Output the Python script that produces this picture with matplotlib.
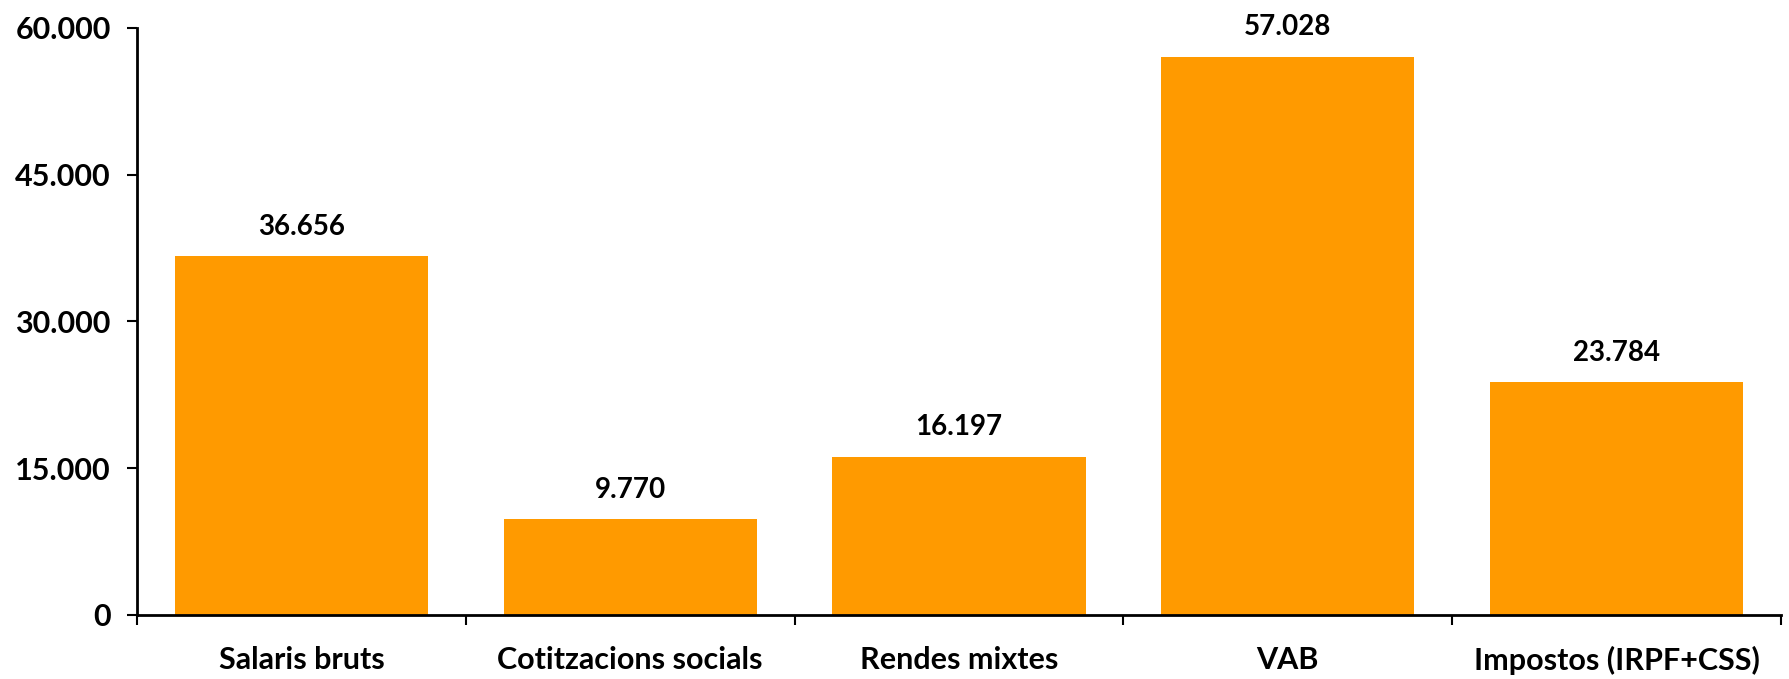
import numpy as np
import matplotlib.pyplot as plt
from matplotlib.ticker import FuncFormatter, FixedLocator

# data
categories = ["Salaris bruts", "Cotitzacions socials", "Rendes mixtes", "VAB", "Impostos (IRPF+CSS)"]
values = [36656, 9770, 16197, 57028, 23784]
yticks = [0, 15000, 30000, 45000, 60000]

plt.rcParams['font.family'] = ['Lato', 'DejaVu Sans']
plt.rcParams['font.weight'] = 'bold'


def dot_thousands(v, pos=None):
    return f"{int(round(v)):,}".replace(",", ".")


fig = plt.figure(figsize=(17.89, 6.79), dpi=100)
ax = fig.add_axes([0.0766, 0.0943, 0.9189, 0.8645])

x = np.arange(len(categories))
ax.bar(x, values, width=0.77, color='#FF9A00', zorder=2)

for xi, v in zip(x, values):
    ax.annotate(dot_thousands(v), (xi, v), xytext=(0, 12), textcoords='offset points',
                ha='center', va='bottom', fontsize=20, fontweight='bold')

ax.set_xlim(-0.5, len(categories) - 0.5)
ax.set_ylim(0, 60000)
ax.set_yticks(yticks)
ax.yaxis.set_major_formatter(FuncFormatter(dot_thousands))

ax.set_xticks(x)
ax.set_xticklabels(categories)
ax.xaxis.set_minor_locator(FixedLocator(np.arange(-0.5, len(categories), 1.0)))

for s in ['top', 'right']:
    ax.spines[s].set_visible(False)
for s in ['left', 'bottom']:
    ax.spines[s].set_linewidth(2)
    ax.spines[s].set_color('black')

ax.tick_params(axis='x', which='major', length=0, pad=22, labelsize=22)
ax.tick_params(axis='x', which='minor', length=7, width=1.5, direction='out')
ax.tick_params(axis='y', length=7, width=1.5, pad=12, labelsize=22)

fig.savefig("out.png", dpi=100)
